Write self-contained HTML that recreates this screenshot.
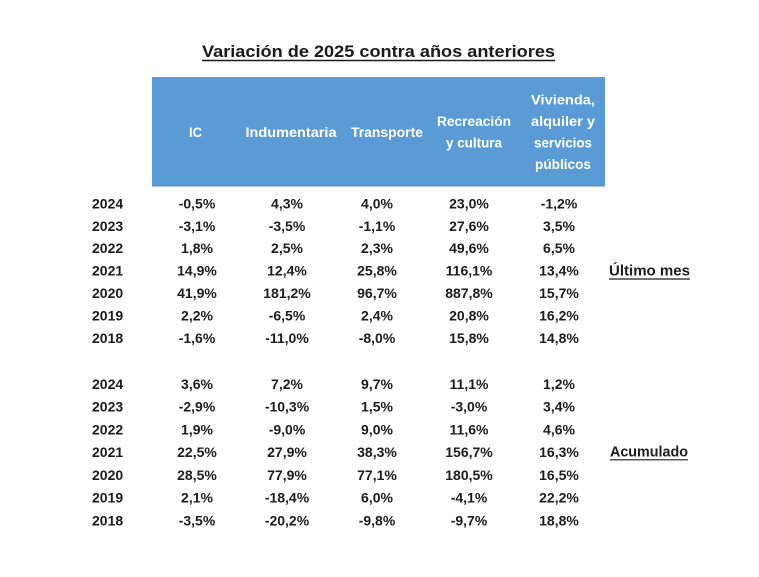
<!DOCTYPE html>
<html>
<head>
<meta charset="utf-8">
<style>
html,body{margin:0;padding:0;background:#fff;}
svg{display:block;}
text{font-family:"Liberation Sans",Arial,sans-serif;font-weight:bold;}
</style>
</head>
<body>
<svg width="759" height="577" viewBox="0 0 759 577" xmlns="http://www.w3.org/2000/svg">
<rect width="759" height="577" fill="#fff"/>
<!-- title -->
<text x="202" y="57" font-size="17" fill="#1a1a1a" textLength="353" lengthAdjust="spacingAndGlyphs">Variación de 2025 contra años anteriores</text>
<line x1="202" y1="60.5" x2="555" y2="60.5" stroke="#1a1a1a" stroke-width="1.5"/>
<!-- header box -->
<rect x="152" y="77" width="453" height="109.5" fill="#5b9bd5"/>
<line x1="152" y1="186" x2="605" y2="186" stroke="#4f8cc4" stroke-width="1"/>
<g fill="#fff" font-size="13.5" text-anchor="middle">
<text x="195.5" y="137" textLength="13" lengthAdjust="spacingAndGlyphs">IC</text>
<text x="291" y="137" textLength="91" lengthAdjust="spacingAndGlyphs">Indumentaria</text>
<text x="387" y="137" textLength="72" lengthAdjust="spacingAndGlyphs">Transporte</text>
<text x="474" y="126" textLength="74" lengthAdjust="spacingAndGlyphs">Recreación</text>
<text x="474" y="147.5" textLength="56" lengthAdjust="spacingAndGlyphs">y cultura</text>
<text x="563" y="104.6" textLength="64" lengthAdjust="spacingAndGlyphs">Vivienda,</text>
<text x="563" y="126.1" textLength="64" lengthAdjust="spacingAndGlyphs">alquiler y</text>
<text x="563" y="147.6" textLength="58" lengthAdjust="spacingAndGlyphs">servicios</text>
<text x="563" y="169.1" textLength="56" lengthAdjust="spacingAndGlyphs">públicos</text>
</g>
<!-- block 1 -->
<g fill="#1c1c1c" font-size="14">
<g>
<text x="92" y="208.3">2024</text>
<text x="92" y="230.8">2023</text>
<text x="92" y="253.2">2022</text>
<text x="92" y="275.7">2021</text>
<text x="92" y="298.1">2020</text>
<text x="92" y="320.6">2019</text>
<text x="92" y="343">2018</text>
</g>
<g text-anchor="middle">
<text x="197" y="208.3">-0,5%</text><text x="287" y="208.3">4,3%</text><text x="377" y="208.3">4,0%</text><text x="469" y="208.3">23,0%</text><text x="559" y="208.3">-1,2%</text>
<text x="197" y="230.8">-3,1%</text><text x="287" y="230.8">-3,5%</text><text x="377" y="230.8">-1,1%</text><text x="469" y="230.8">27,6%</text><text x="559" y="230.8">3,5%</text>
<text x="197" y="253.2">1,8%</text><text x="287" y="253.2">2,5%</text><text x="377" y="253.2">2,3%</text><text x="469" y="253.2">49,6%</text><text x="559" y="253.2">6,5%</text>
<text x="197" y="275.7">14,9%</text><text x="287" y="275.7">12,4%</text><text x="377" y="275.7">25,8%</text><text x="469" y="275.7">116,1%</text><text x="559" y="275.7">13,4%</text>
<text x="197" y="298.1">41,9%</text><text x="287" y="298.1">181,2%</text><text x="377" y="298.1">96,7%</text><text x="469" y="298.1">887,8%</text><text x="559" y="298.1">15,7%</text>
<text x="197" y="320.6">2,2%</text><text x="287" y="320.6">-6,5%</text><text x="377" y="320.6">2,4%</text><text x="469" y="320.6">20,8%</text><text x="559" y="320.6">16,2%</text>
<text x="197" y="343">-1,6%</text><text x="287" y="343">-11,0%</text><text x="377" y="343">-8,0%</text><text x="469" y="343">15,8%</text><text x="559" y="343">14,8%</text>
</g>
<!-- block 2 -->
<g>
<text x="92" y="388.8">2024</text>
<text x="92" y="411.6">2023</text>
<text x="92" y="434.3">2022</text>
<text x="92" y="457.1">2021</text>
<text x="92" y="479.8">2020</text>
<text x="92" y="502.6">2019</text>
<text x="92" y="525.3">2018</text>
</g>
<g text-anchor="middle">
<text x="197" y="388.8">3,6%</text><text x="287" y="388.8">7,2%</text><text x="377" y="388.8">9,7%</text><text x="469" y="388.8">11,1%</text><text x="559" y="388.8">1,2%</text>
<text x="197" y="411.6">-2,9%</text><text x="287" y="411.6">-10,3%</text><text x="377" y="411.6">1,5%</text><text x="469" y="411.6">-3,0%</text><text x="559" y="411.6">3,4%</text>
<text x="197" y="434.3">1,9%</text><text x="287" y="434.3">-9,0%</text><text x="377" y="434.3">9,0%</text><text x="469" y="434.3">11,6%</text><text x="559" y="434.3">4,6%</text>
<text x="197" y="457.1">22,5%</text><text x="287" y="457.1">27,9%</text><text x="377" y="457.1">38,3%</text><text x="469" y="457.1">156,7%</text><text x="559" y="457.1">16,3%</text>
<text x="197" y="479.8">28,5%</text><text x="287" y="479.8">77,9%</text><text x="377" y="479.8">77,1%</text><text x="469" y="479.8">180,5%</text><text x="559" y="479.8">16,5%</text>
<text x="197" y="502.6">2,1%</text><text x="287" y="502.6">-18,4%</text><text x="377" y="502.6">6,0%</text><text x="469" y="502.6">-4,1%</text><text x="559" y="502.6">22,2%</text>
<text x="197" y="525.3">-3,5%</text><text x="287" y="525.3">-20,2%</text><text x="377" y="525.3">-9,8%</text><text x="469" y="525.3">-9,7%</text><text x="559" y="525.3">18,8%</text>
</g>
<!-- side labels -->
<text x="609" y="275.5" font-size="14.5" textLength="81" lengthAdjust="spacingAndGlyphs">Último mes</text>
<line x1="609" y1="279" x2="690" y2="279" stroke="#1c1c1c" stroke-width="1.2"/>
<text x="610" y="456.3" font-size="14.5" textLength="78" lengthAdjust="spacingAndGlyphs">Acumulado</text>
<line x1="610" y1="459.8" x2="688" y2="459.8" stroke="#1c1c1c" stroke-width="1.2"/>
</g>
</svg>
</body>
</html>
